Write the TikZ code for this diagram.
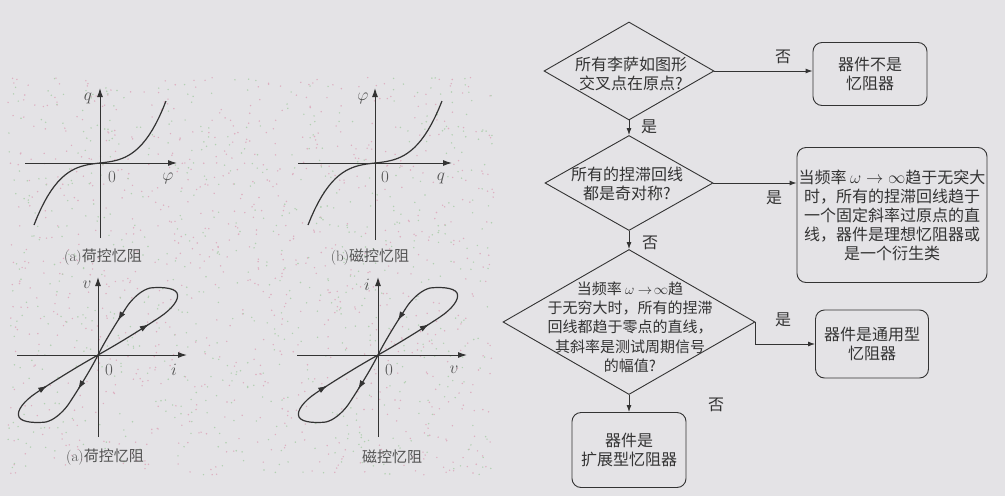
\documentclass[tikz,border=0pt]{standalone}
\usepackage{fontspec}
\newfontfamily\cjk{Noto Sans CJK SC}
\usetikzlibrary{shapes.geometric,arrows.meta}

\definecolor{bg}{HTML}{E4E3E6}
\definecolor{ink}{HTML}{333333}
\definecolor{dotpink}{HTML}{DDAFC0}
\definecolor{dotgreen}{HTML}{B2D0B2}

\tikzset{
  dia/.style={diamond, draw=ink, line width=0.9pt, inner sep=0pt},
  box/.style={rectangle, rounded corners=9pt, draw=ink, line width=0.9pt, inner sep=0pt},
  txt/.style={align=center, text=ink, font=\cjk\fontsize{16}{19}\selectfont},
  lbl/.style={text=ink, font=\cjk\fontsize{16}{19}\selectfont},
  conn/.style={-{Latex[length=7pt,width=5pt]}, ink, line width=0.9pt},
  axis/.style={-{Latex[length=9pt,width=6pt]}, ink, line width=1pt},
  curve/.style={ink, line width=1.2pt},
  looptip/.style={-{Latex[length=9pt,width=6pt]}, ink, line width=1pt},
  glab/.style={text=ink!85, font=\fontsize{17}{20}\selectfont},
  figcap/.style={text=ink!85, font=\fontsize{15}{18}\selectfont},
}

\begin{document}
\begin{tikzpicture}[x=1pt,y=-1pt]
  \useasboundingbox[fill=bg] (0,0) rectangle (1005,496);

  % speckled scan background
  \pgfmathsetseed{11}
  \foreach \k in {1,...,900}{
    \pgfmathsetmacro{\dx}{8+487*rnd}
    \pgfmathsetmacro{\dy}{77+398*rnd}
    \fill[dotpink] (\dx,\dy) circle (0.8pt);
  }
  \foreach \k in {1,...,700}{
    \pgfmathsetmacro{\dx}{8+487*rnd}
    \pgfmathsetmacro{\dy}{77+398*rnd}
    \fill[dotgreen] (\dx,\dy) circle (0.8pt);
  }

  % (a) charge controlled
  \draw[axis] (25,163) -- (177,163);
  \draw[axis] (100,238) -- (100,88);
  \draw[curve, domain=-1:1, samples=40, variable=\t]
    plot ({100+66*\t},{163-62*(0.88*\t*\t*\t+0.12*\t)});
  \node[glab] (qa) at (88,98) {$q$};
  \node[glab] (za) at (112,177) {0};
  \node[glab] (pa) at (168,178) {$\varphi$};
  \node[figcap] (capa) at (103,257) {(a)\cjk 荷控忆阻};

  % (b) flux controlled
  \draw[axis] (298,163) -- (452,163);
  \draw[axis] (375,240) -- (375,88);
  \draw[curve, domain=-1:1, samples=40, variable=\t]
    plot ({375+67*\t},{163-62*(0.88*\t*\t*\t+0.12*\t)});
  \node[glab] (pb) at (363,98) {$\varphi$};
  \node[glab] (zb) at (385,177) {0};
  \node[glab] (qb) at (441,178) {$q$};
  \node[figcap] (capb) at (370,257) {(b)\cjk 磁控忆阻};

  % (c) and (d) pinched loops
  \foreach \ox/\ylab/\xlab in {98/v/i, 378/i/v}{
    \draw[axis] (\ox-81,355) -- (\ox+89,355);
    \draw[axis] (\ox,437) -- (\ox,277);
    \begin{scope}[shift={(\ox,355)}]
      \draw[curve] (0,0) .. controls (25,-14) and (50,-30) .. (62,-38)
        .. controls (74,-46) and (82,-56) .. (79,-62)
        .. controls (76,-68) and (60,-68) .. (52,-67)
        .. controls (44,-65) and (36,-58) .. (30,-50)
        .. controls (22,-38) and (8,-16) .. (0,0);
      \draw[curve] (0,0) .. controls (-25,14) and (-50,30) .. (-62,38)
        .. controls (-74,46) and (-82,56) .. (-79,62)
        .. controls (-76,68) and (-60,68) .. (-52,67)
        .. controls (-44,65) and (-36,58) .. (-30,50)
        .. controls (-22,38) and (-8,16) .. (0,0);
      \draw[looptip] (49.8,-30.1) -- (50.8,-30.7);
      \draw[looptip] (20.5,-35.4) -- (19.9,-34.4);
      \draw[looptip] (-51.8,31.3) -- (-50.8,30.7);
      \draw[looptip] (-19.3,33.4) -- (-19.9,34.4);
      \node[glab] at (-11,-70) {$\ylab$};
      \node[glab] at (11,15) {0};
      \node[glab] at (76,15) {$\xlab$};
    \end{scope}
  }
  \node[figcap] (capc) at (105,457) {(a)\cjk 荷控忆阻};
  \node[figcap] (capd) at (392,457) {\cjk 磁控忆阻};

  % flow chart
  \node[dia, minimum width=170pt, minimum height=98pt] (q1) at (629,71) {};
  \node[txt] (q1t) at (631,74) {所有李萨如图形\\交叉点在原点?};
  \node[box, txt, minimum width=114pt, minimum height=63pt] (r1) at (870,74) {器件不是\\忆阻器};

  \node[dia, minimum width=168pt, minimum height=95pt] (q2) at (629,183) {};
  \node[txt] (q2t) at (627,184) {所有的捏滞回线\\都是奇对称?};
  \node[box, txt, minimum width=190pt, minimum height=135pt] (r2) at (892,215)
    {当频率 $\omega\rightarrow\infty$趋于无突大\\时，所有的捏滞回线趋于\\一个固定斜率过原点的直\\线，器件是理想忆阻器或\\是一个衍生类};

  \node[dia, minimum width=252pt, minimum height=145pt] (q3) at (629,322) {};
  \node[txt, font=\cjk\fontsize{15}{19.3}\selectfont] (q3t) at (630,327)
    {当频率 $\omega$ $\rightarrow\!\infty$趋\\于无穷大时，所有的捏滞\\回线都趋于零点的直线，\\其斜率是测试周期信号\\的幅值?};
  \node[box, txt, minimum width=113pt, minimum height=68pt] (r3) at (872,344) {器件是通用型\\忆阻器};
  \node[box, txt, minimum width=114pt, minimum height=75pt] (r4) at (629,450) {器件是\\扩展型忆阻器};

  \draw[conn] (q1.east) -- (q1.east -| r1.west);
  \draw[conn] (q1.south) -- (q2.north);
  \draw[conn] (q2.east) -- (q2.east -| r2.west);
  \draw[conn] (q2.south) -- (q3.north);
  \draw[conn] (q3.east) -- (q3.east |- r3.west) -- (r3.west);
  \draw[conn] (q3.south) -- (r4.north);

  \node[lbl] (l1) at (783,57) {否};
  \node[lbl] (l2) at (649,127) {是};
  \node[lbl] (l3) at (774,198) {是};
  \node[lbl] (l4) at (650,243) {否};
  \node[lbl] (l5) at (783,320) {是};
  \node[lbl] (l6) at (716,405) {否};
\end{tikzpicture}
\end{document}
